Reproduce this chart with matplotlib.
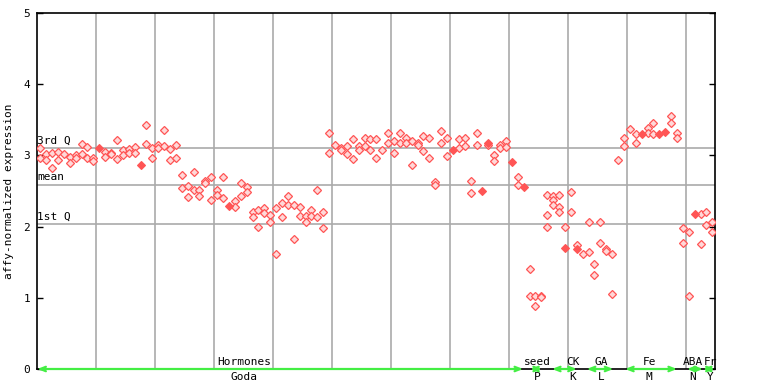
import matplotlib
matplotlib.use("Agg")
import matplotlib.pyplot as plt

# expression values per sample column (hollow markers)
sample_values = [
    [3.10, 2.97], [3.02, 2.94], [3.03, 2.82], [3.05, 2.94], [3.02], [2.98, 2.90],
    [3.01, 2.97], [3.16, 3.02], [3.12, 2.96], [2.96, 2.92], [], [3.05, 2.98],
    [3.03, 3.02], [3.21, 2.95], [3.07, 3.01], [3.09, 3.03], [3.12, 3.04], [],
    [3.42, 3.16], [3.10, 2.97], [3.15, 3.10], [3.35, 3.13], [3.09, 2.93], [3.14, 2.97],
    [2.72, 2.54], [2.57, 2.41], [2.76, 2.51], [2.52, 2.43], [2.64, 2.61], [2.69, 2.38],
    [2.51, 2.45], [2.69, 2.40], [], [2.36, 2.28], [2.61, 2.43], [2.55, 2.49],
    [2.20, 2.13], [2.24, 1.99], [2.26, 2.19], [2.16, 2.07], [2.26, 1.61], [2.33, 2.13],
    [2.43, 2.30], [2.31, 1.82], [2.28, 2.15], [2.15, 2.07], [2.23, 2.15], [2.51, 2.13],
    [2.21, 1.98], [3.31, 3.03], [3.14], [3.10, 3.07], [3.13, 3.02], [3.23, 2.95],
    [3.13, 3.08], [3.24, 3.13], [3.23, 3.07], [3.23, 2.96], [3.07], [3.31, 3.18],
    [3.20, 3.03], [3.31, 3.17], [3.25, 3.18], [3.20, 2.86], [3.17, 3.14], [3.27, 3.06],
    [3.25, 2.96], [2.62, 2.58], [3.34, 3.17], [3.25, 2.99], [], [3.23, 3.11],
    [3.25, 3.13], [2.64, 2.47], [3.32, 3.14], [], [3.14], [3.00, 2.92],
    [3.14, 3.11], [3.20, 3.12], [], [2.69, 2.58], [], [1.40, 1.02],
    [1.03, 0.89], [1.03, 1.01], [2.45, 2.16, 1.99], [2.43, 2.37, 2.31], [2.44, 2.28, 2.21], [2.00],
    [2.48, 2.20], [1.74], [1.61], [2.06, 1.64], [1.47, 1.32], [2.07, 1.77],
    [1.69, 1.66], [1.61, 1.06], [2.94], [3.24, 3.13], [3.37], [3.30, 3.17],
    [], [3.38, 3.32], [3.45, 3.30], [], [], [3.55, 3.45],
    [3.31, 3.25], [1.98, 1.77], [1.93, 1.02], [], [2.17, 1.75], [2.20, 2.02],
    [2.07, 1.93],
]

# filled markers (column index, value)
filled_cols = [10, 17, 32, 70, 75, 76, 80, 82, 89, 91, 102, 105, 106, 111]
filled_vals = [3.11, 2.86, 2.29, 3.08, 2.50, 3.17, 2.91, 2.56, 1.70, 1.68, 3.30, 3.30, 3.33, 2.18]

third_q = 3.10
mean_val = 2.58
first_q = 2.03

# category spans (column index) and labels
cat_top = ["Hormones", "seed", "CK", "GA", "Fe", "ABA", "Fr"]
cat_bottom = ["Goda", "P", "K", "L", "M", "N", "Y"]
cat_start = [-0.5, 83.1, 86.8, 92.7, 99.2, 109.7, 112.4]
cat_end = [81.9, 85.1, 91.0, 97.2, 108.0, 112.4, 114.4]
cat_label_x = [34.6, 84.3, 90.3, 95.2, 103.3, 110.7, 113.7]

mono = "DejaVu Sans Mono"
red = "#ff5555"

fig = plt.figure(figsize=(7.68, 3.84), dpi=100)
ax = fig.add_axes([37 / 768, 15 / 384, 678 / 768, 356 / 384])
ax.set_xlim(-0.56, 114.45)
ax.set_ylim(0, 5)

# grid
for gx in range(10, 115, 10):
    ax.axvline(gx - 0.5, color="#aaaaaa", lw=1.2, zorder=1)
for q in [third_q, mean_val, first_q]:
    ax.axhline(q, color="#aaaaaa", lw=1.2, zorder=1)

xs, ys = [], []
for i, vals in enumerate(sample_values):
    for v in vals:
        xs.append(i)
        ys.append(v)
ax.plot(xs, ys, ls="none", marker="D", ms=3.9, mfc="#ffd8d8", mec=red, mew=0.9, zorder=3)
ax.plot(filled_cols, filled_vals, ls="none", marker="D", ms=4.4, mfc=red, mec=red, mew=0.8, zorder=4)

# quartile labels
ax.text(-0.5, third_q + 0.04, "3rd Q", family=mono, fontsize=8, va="bottom", ha="left")
ax.text(-0.5, mean_val + 0.04, "mean", family=mono, fontsize=8, va="bottom", ha="left")
ax.text(-0.5, first_q + 0.04, "1st Q", family=mono, fontsize=8, va="bottom", ha="left")

# category arrows and labels
for top, bot, s, e, lx in zip(cat_top, cat_bottom, cat_start, cat_end, cat_label_x):
    ax.annotate("", xy=(e, 0.0), xytext=(s, 0.0),
                arrowprops=dict(arrowstyle="<->,head_length=0.5,head_width=0.2",
                                color="#44ee44", lw=1.6, mutation_scale=8,
                                shrinkA=0, shrinkB=0),
                annotation_clip=False, zorder=5)
    ax.annotate(top, xy=(lx, 0), xytext=(0, 1.5), textcoords="offset points",
                family=mono, fontsize=8, ha="center", va="bottom", annotation_clip=False)
    ax.annotate(bot, xy=(lx, 0), xytext=(0, -2), textcoords="offset points",
                family=mono, fontsize=8, ha="center", va="top", annotation_clip=False)

ax.set_yticks([0, 1, 2, 3, 4, 5])
ax.set_xticks([])
ax.tick_params(axis="y", direction="in", length=4, width=1, pad=5, labelsize=8,
               right=True, left=True)
for lab in ax.get_yticklabels():
    lab.set_family(mono)
ax.set_ylabel("affy-normalized expression", family=mono, fontsize=8, labelpad=7)

for side in ["left", "right", "top", "bottom"]:
    ax.spines[side].set_color("black")
    ax.spines[side].set_linewidth(1.2)

fig.savefig("out.png", dpi=100)
